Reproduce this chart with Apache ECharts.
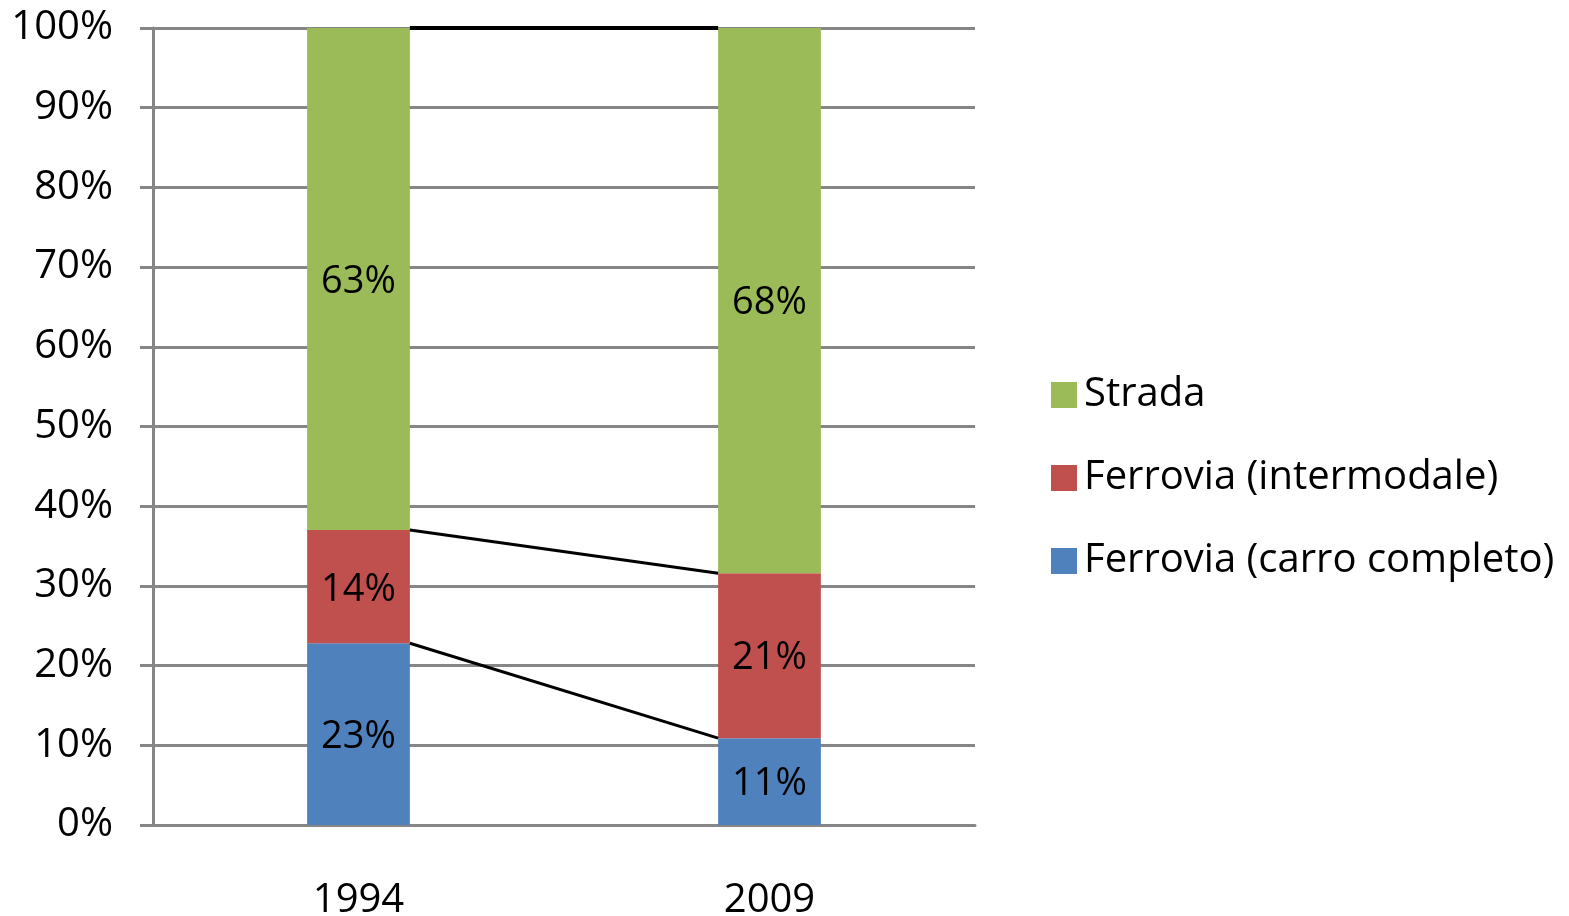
<!DOCTYPE html>
<html>
<head>
<meta charset="utf-8">
<script src="https://cdn.jsdelivr.net/npm/echarts@6/dist/echarts.min.js"></script>
<style>
  html, body { margin: 0; padding: 0; background: #fff; }
  #chart { width: 1569px; height: 916px; }
</style>
</head>
<body>
<div id="chart"></div>
<script>
const years = ['1994', '2009']
const carroCompleto = [22.8, 10.9]
const intermodale = [14.2, 20.7]
const strada = [63.0, 68.4]
const yTicks = [0, 10, 20, 30, 40, 50, 60, 70, 80, 90, 100]

const FONT = 'Open Sans'
const BAR_FRACTION = 0.25

const chart = echarts.init(document.getElementById('chart'))

// tops of each stacked segment, used for the connecting series lines
const stackTops = [
  [carroCompleto[0], carroCompleto[1]],
  [carroCompleto[0] + intermodale[0], carroCompleto[1] + intermodale[1]],
  [carroCompleto[0] + intermodale[0] + strada[0], carroCompleto[1] + intermodale[1] + strada[1]]
]

const labelOpt = {
  show: true,
  position: 'inside',
  color: '#000',
  fontFamily: FONT,
  fontSize: 38,
  offset: [0, 3],
  formatter: p => Math.round(p.value) + '%'
}

const barSeries = (name, data, color) => ({
  name,
  type: 'bar',
  stack: 'total',
  barWidth: (BAR_FRACTION * 100) + '%',
  data,
  itemStyle: { color },
  label: labelOpt
})

const option = {
  animation: false,
  grid: { left: 153, right: 594, top: 28, bottom: 91, containLabel: false, outerBoundsMode: 'none' },
  legend: {
    data: ['Strada', 'Ferrovia (intermodale)', 'Ferrovia (carro completo)'],
    orient: 'vertical',
    left: 1046,
    top: 367,
    itemWidth: 26,
    itemHeight: 26,
    itemGap: 37,
    icon: 'rect',
    textStyle: { fontFamily: FONT, fontSize: 40, lineHeight: 46, color: '#000', padding: [0, 0, 0, 2] }
  },
  xAxis: {
    type: 'category',
    data: years,
    axisLine: { lineStyle: { color: '#868686', width: 3 } },
    axisTick: { show: false },
    axisLabel: { color: '#000', fontFamily: FONT, fontSize: 40, margin: 56 }
  },
  yAxis: {
    type: 'value',
    min: yTicks[0],
    max: yTicks[yTicks.length - 1],
    interval: 10,
    axisLine: { show: true, lineStyle: { color: '#868686', width: 3 } },
    axisTick: { show: true, length: 13, lineStyle: { color: '#868686', width: 3 } },
    splitLine: { lineStyle: { color: '#868686', width: 3 } },
    axisLabel: { color: '#000', fontFamily: FONT, fontSize: 40, margin: 40, formatter: '{value}%' }
  },
  series: [
    barSeries('Ferrovia (carro completo)', carroCompleto, '#4F81BD'),
    barSeries('Ferrovia (intermodale)', intermodale, '#C0504D'),
    barSeries('Strada', strada, '#9BBB59'),
    {
      type: 'custom',
      name: 'serie lines',
      z: 5,
      silent: true,
      encode: { x: 0, y: 1 },
      data: stackTops.map(t => [0, t[0], t[1]]),
      renderItem: (params, api) => {
        const p1 = api.coord([0, api.value(1)])
        const p2 = api.coord([1, api.value(2)])
        const half = api.size([1, 0])[0] * BAR_FRACTION / 2
        const isTop = params.dataIndex === stackTops.length - 1
        return {
          type: 'line',
          shape: { x1: p1[0] + half, y1: p1[1], x2: p2[0] - half, y2: p2[1] },
          style: { stroke: '#000', lineWidth: isTop ? 4 : 3 }
        }
      }
    }
  ]
}

chart.setOption(option)
</script>
</body>
</html>
